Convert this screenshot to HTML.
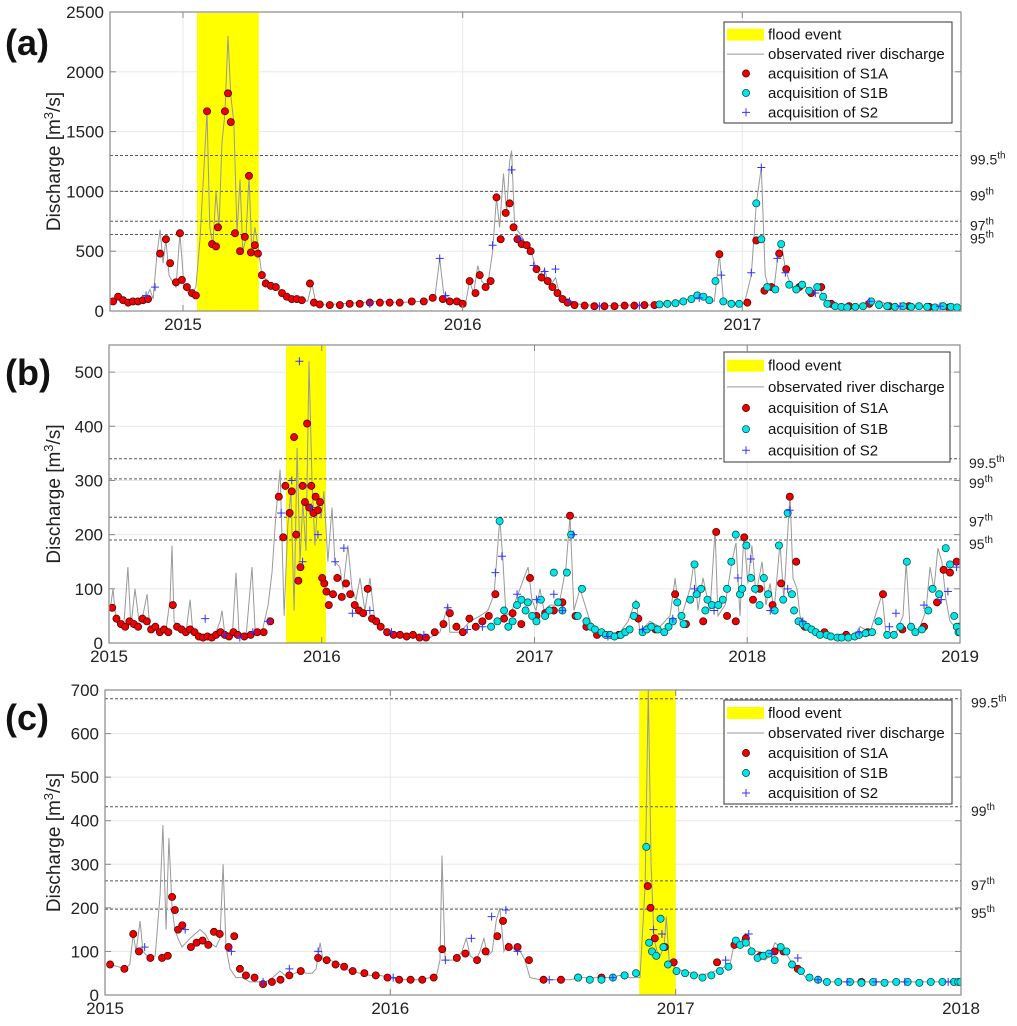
<!DOCTYPE html>
<html><head><meta charset="utf-8"><style>
body{margin:0;background:#fff;}
svg{display:block;font-family:"Liberation Sans",Arial,sans-serif;}
</style></head><body>
<svg id="chart" width="1017" height="1026" viewBox="0 0 1017 1026" xmlns="http://www.w3.org/2000/svg"></svg>
<script>
// ---------- PANEL A DATA ----------
const aLineT=[2014.739,2014.768,2014.793,2014.829,2014.864,2014.882,2014.893,2014.907,2014.918,2014.929,2014.939,2014.950,2014.961,2014.975,2014.989,2015.004,2015.025,2015.046,2015.061,2015.075,2015.086,2015.096,2015.107,2015.118,2015.129,2015.139,2015.150,2015.161,2015.171,2015.182,2015.193,2015.204,2015.214,2015.225,2015.236,2015.246,2015.257,2015.268,2015.282,2015.311,2015.346,2015.382,2015.418,2015.446,2015.461,2015.475,2015.507,2015.561,2015.632,2015.704,2015.775,2015.846,2015.900,2015.918,2015.932,2015.961,2015.989,2016.011,2016.025,2016.039,2016.054,2016.068,2016.089,2016.107,2016.121,2016.132,2016.146,2016.157,2016.168,2016.175,2016.186,2016.204,2016.221,2016.239,2016.257,2016.275,2016.293,2016.311,2016.332,2016.346,2016.368,2016.400,2016.454,2016.525,2016.596,2016.668,2016.739,2016.811,2016.864,2016.900,2016.918,2016.932,2016.971,2017.007,2017.032,2017.050,2017.068,2017.082,2017.096,2017.114,2017.129,2017.139,2017.154,2017.168,2017.189,2017.221,2017.246,2017.275,2017.293,2017.329,2017.382,2017.454,2017.489,2017.525,2017.596,2017.668,2017.721,2017.757,2017.782];
const aLineV=[80,120,80,70,90,180,100,480,680,400,600,300,250,200,650,200,130,200,600,1200,1670,700,550,1000,700,1400,1650,2300,1800,1570,650,1100,500,600,1130,500,700,550,300,230,180,120,100,80,230,70,50,60,70,80,70,80,100,440,150,90,100,70,250,150,380,250,200,500,950,700,1150,820,1250,1340,700,650,580,550,400,300,350,200,280,150,100,60,50,45,50,50,70,100,130,80,475,100,60,60,300,900,1200,300,180,200,500,580,350,250,150,220,150,200,100,40,35,60,90,40,40,35,60,30,40];
const aS1AT=[2014.750,2014.768,2014.786,2014.804,2014.821,2014.839,2014.857,2014.875,2014.918,2014.939,2014.954,2014.975,2014.989,2014.996,2015.014,2015.032,2015.046,2015.086,2015.104,2015.118,2015.125,2015.150,2015.161,2015.171,2015.186,2015.204,2015.221,2015.236,2015.243,2015.257,2015.268,2015.282,2015.296,2015.314,2015.332,2015.354,2015.371,2015.389,2015.407,2015.425,2015.454,2015.468,2015.489,2015.525,2015.561,2015.596,2015.632,2015.668,2015.704,2015.739,2015.775,2015.818,2015.861,2015.893,2015.929,2015.954,2015.979,2016.000,2016.025,2016.046,2016.061,2016.082,2016.100,2016.121,2016.136,2016.154,2016.168,2016.182,2016.196,2016.211,2016.229,2016.243,2016.264,2016.282,2016.304,2016.321,2016.339,2016.357,2016.375,2016.400,2016.436,2016.471,2016.507,2016.543,2016.579,2016.614,2016.650,2016.686,2016.918,2017.018,2017.050,2017.079,2017.104,2017.132,2017.157,2017.204,2017.246,2017.282,2017.318,2017.382,2017.454,2017.525,2017.596,2017.668,2017.739];
const aS1AV=[80,120,90,70,80,80,90,100,480,600,400,240,650,260,200,150,130,1670,560,540,700,1670,1820,1580,650,500,620,1130,490,550,480,300,230,210,200,150,120,100,100,90,230,70,55,50,50,60,60,70,70,70,70,80,80,110,100,80,80,60,250,150,300,200,250,950,600,820,900,700,600,560,550,500,350,280,250,200,150,100,70,50,45,40,40,40,45,45,50,50,475,70,590,170,200,480,350,200,150,200,60,40,60,40,40,35,30];
const aS1BT=[2016.704,2016.732,2016.761,2016.789,2016.818,2016.839,2016.861,2016.882,2016.904,2016.932,2016.961,2016.989,2017.050,2017.068,2017.089,2017.118,2017.139,2017.168,2017.193,2017.214,2017.239,2017.268,2017.289,2017.304,2017.332,2017.354,2017.375,2017.404,2017.432,2017.461,2017.489,2017.518,2017.546,2017.575,2017.604,2017.632,2017.661,2017.689,2017.718,2017.746,2017.768];
const aS1BV=[55,60,65,80,100,130,120,90,250,80,60,60,900,600,200,180,560,220,180,220,170,200,120,60,40,35,30,35,40,80,50,40,35,40,35,40,35,30,40,35,30];
const aS2T=[2014.868,2014.900,2015.668,2015.918,2015.939,2016.107,2016.175,2016.204,2016.254,2016.293,2016.332,2016.382,2016.489,2016.632,2016.846,2016.925,2017.032,2017.068,2017.125,2017.154,2017.261,2017.454,2017.564,2017.707];
const aS2V=[130,200,60,440,130,550,1180,600,380,330,350,80,40,45,110,300,320,1200,440,320,150,80,40,40];
const aFlood=[2015.050,2015.271];
const aYTicks=[0,500,1000,1500,2000,2500];
const aXTicks=[2015,2016,2017];
const aPct=[1300,1000,750,640];

// ---------- PANEL B DATA ----------
const bLineT=[2015.005,2015.019,2015.033,2015.052,2015.071,2015.089,2015.103,2015.122,2015.141,2015.159,2015.179,2015.193,2015.216,2015.240,2015.268,2015.287,2015.296,2015.306,2015.333,2015.362,2015.381,2015.394,2015.428,2015.475,2015.498,2015.522,2015.531,2015.545,2015.579,2015.597,2015.611,2015.644,2015.672,2015.687,2015.719,2015.748,2015.766,2015.785,2015.804,2015.823,2015.841,2015.855,2015.870,2015.884,2015.898,2015.911,2015.926,2015.940,2015.954,2015.968,2015.983,2015.997,2016.010,2016.029,2016.048,2016.062,2016.085,2016.100,2016.123,2016.142,2016.161,2016.180,2016.203,2016.227,2016.250,2016.274,2016.320,2016.368,2016.415,2016.462,2016.509,2016.556,2016.593,2016.602,2016.650,2016.697,2016.744,2016.781,2016.810,2016.837,2016.852,2016.866,2016.894,2016.913,2016.932,2016.950,2016.970,2016.988,2017.007,2017.026,2017.045,2017.073,2017.101,2017.120,2017.148,2017.167,2017.185,2017.214,2017.261,2017.308,2017.354,2017.402,2017.440,2017.477,2017.496,2017.542,2017.589,2017.637,2017.661,2017.684,2017.731,2017.750,2017.768,2017.792,2017.825,2017.849,2017.862,2017.896,2017.928,2017.947,2017.966,2017.984,2018.003,2018.022,2018.041,2018.070,2018.088,2018.107,2018.126,2018.154,2018.172,2018.201,2018.215,2018.234,2018.248,2018.276,2018.318,2018.366,2018.413,2018.459,2018.506,2018.530,2018.577,2018.634,2018.652,2018.695,2018.732,2018.747,2018.765,2018.803,2018.840,2018.859,2018.878,2018.896,2018.915,2018.934,2018.953,2019.000,2019.070];
const bLineV=[60,100,40,30,40,140,30,100,40,50,90,20,30,20,25,80,180,40,25,20,80,20,10,10,15,40,60,15,10,130,20,10,140,20,20,70,130,240,320,50,220,280,60,360,150,260,170,520,300,180,270,230,280,150,250,150,140,100,180,100,80,120,60,120,40,30,20,15,15,10,10,20,70,20,20,40,50,60,90,230,150,50,60,80,100,120,140,80,60,100,60,70,70,80,140,235,60,100,40,20,15,20,40,80,20,40,30,50,120,40,100,150,60,120,60,208,50,70,150,185,50,200,110,180,90,150,70,110,60,185,80,275,120,100,50,30,20,15,10,10,15,30,20,90,15,15,50,150,30,20,60,140,100,175,150,80,40,20,20];
const bS1AT=[2015.015,2015.035,2015.056,2015.076,2015.096,2015.117,2015.137,2015.157,2015.178,2015.198,2015.218,2015.239,2015.259,2015.279,2015.300,2015.320,2015.341,2015.361,2015.381,2015.402,2015.422,2015.442,2015.463,2015.483,2015.503,2015.524,2015.544,2015.564,2015.585,2015.605,2015.636,2015.666,2015.697,2015.727,2015.758,2015.798,2015.819,2015.829,2015.849,2015.859,2015.870,2015.880,2015.890,2015.900,2015.910,2015.921,2015.931,2015.941,2015.951,2015.961,2015.971,2015.982,2015.992,2016.002,2016.012,2016.022,2016.033,2016.053,2016.073,2016.094,2016.114,2016.134,2016.155,2016.175,2016.195,2016.216,2016.236,2016.256,2016.277,2016.307,2016.338,2016.368,2016.399,2016.429,2016.460,2016.490,2016.531,2016.572,2016.602,2016.633,2016.663,2016.694,2016.724,2016.755,2016.785,2016.816,2016.857,2016.897,2016.938,2016.979,2017.009,2017.050,2017.091,2017.131,2017.167,2017.193,2017.244,2017.294,2017.396,2017.488,2017.569,2017.661,2017.712,2017.793,2017.854,2017.905,2017.946,2017.986,2018.027,2018.058,2018.119,2018.159,2018.200,2018.230,2018.271,2018.363,2018.465,2018.566,2018.638,2018.729,2018.831,2018.892,2018.923,2018.953,2018.984,2018.996];
const bS1AV=[65,45,35,30,40,35,30,45,40,25,30,20,25,20,70,30,25,20,25,20,12,10,12,10,15,20,15,12,20,15,12,15,20,20,40,270,195,290,240,280,380,200,115,140,290,260,405,250,290,240,270,245,260,120,110,95,70,90,120,85,110,90,70,60,55,100,45,40,30,20,15,15,12,15,10,10,20,35,55,30,20,45,30,40,50,90,45,55,35,120,50,55,60,75,235,50,30,15,15,45,25,90,35,40,205,50,40,195,80,100,70,110,270,150,30,20,15,20,90,25,30,75,135,130,150,30];
const bS1BT=[2016.796,2016.826,2016.836,2016.857,2016.877,2016.897,2016.918,2016.938,2016.958,2016.969,2016.989,2017.009,2017.030,2017.050,2017.070,2017.091,2017.111,2017.131,2017.152,2017.172,2017.203,2017.223,2017.244,2017.264,2017.284,2017.315,2017.335,2017.355,2017.376,2017.406,2017.427,2017.447,2017.467,2017.477,2017.508,2017.528,2017.549,2017.579,2017.610,2017.630,2017.650,2017.671,2017.691,2017.701,2017.732,2017.752,2017.762,2017.783,2017.803,2017.813,2017.834,2017.864,2017.885,2017.905,2017.925,2017.946,2017.966,2017.976,2017.996,2018.017,2018.037,2018.058,2018.078,2018.098,2018.129,2018.149,2018.169,2018.190,2018.210,2018.220,2018.241,2018.261,2018.281,2018.302,2018.322,2018.342,2018.373,2018.393,2018.424,2018.444,2018.475,2018.505,2018.526,2018.556,2018.587,2018.617,2018.658,2018.689,2018.719,2018.750,2018.770,2018.790,2018.821,2018.851,2018.871,2018.902,2018.933,2018.953,2018.973,2018.985,2018.993,2018.999];
const bS1BV=[30,40,225,60,30,40,70,80,60,75,50,40,80,50,60,130,75,60,130,200,50,100,40,30,25,20,15,15,12,15,20,25,50,70,20,25,30,25,20,30,40,75,50,35,80,145,90,100,60,80,70,70,80,100,150,200,90,100,180,120,100,70,120,90,60,180,80,240,90,60,40,35,30,25,20,15,15,12,10,10,10,12,15,18,20,40,15,15,30,150,30,20,25,60,100,90,175,145,50,30,20,20];
const bS2T=[2015.452,2015.544,2015.615,2015.676,2015.748,2015.809,2015.859,2015.895,2015.910,2015.951,2015.982,2016.063,2016.104,2016.144,2016.226,2016.328,2016.480,2016.592,2016.684,2016.755,2016.816,2016.847,2016.918,2017.009,2017.091,2017.131,2017.182,2017.345,2017.508,2017.650,2017.752,2017.844,2017.956,2018.017,2018.108,2018.190,2018.200,2018.261,2018.526,2018.668,2018.699,2018.831,2018.912,2018.943,2018.984];
const bS2V=[45,15,10,20,40,240,300,520,150,250,200,150,175,55,60,20,15,65,25,30,130,160,90,80,90,60,200,12,25,45,100,60,120,155,60,100,245,40,20,30,55,70,80,95,140];
const bFlood=[2015.832,2016.020];
const bYTicks=[0,100,200,300,400,500];
const bXTicks=[2015,2016,2017,2018,2019];
const bPct=[340,303,232,190];

// ---------- PANEL C DATA ----------
const cLineT=[2015.018,2015.046,2015.070,2015.087,2015.099,2015.109,2015.123,2015.133,2015.147,2015.157,2015.176,2015.193,2015.203,2015.214,2015.224,2015.235,2015.245,2015.256,2015.270,2015.284,2015.298,2015.315,2015.333,2015.351,2015.368,2015.389,2015.403,2015.414,2015.424,2015.438,2015.459,2015.480,2015.508,2015.536,2015.560,2015.579,2015.596,2015.613,2015.631,2015.649,2015.666,2015.683,2015.704,2015.726,2015.740,2015.754,2015.764,2015.788,2015.824,2015.858,2015.894,2015.929,2015.964,2015.999,2016.034,2016.069,2016.104,2016.139,2016.160,2016.174,2016.181,2016.192,2016.209,2016.230,2016.251,2016.266,2016.280,2016.300,2016.314,2016.328,2016.342,2016.357,2016.371,2016.384,2016.398,2016.412,2016.427,2016.441,2016.455,2016.472,2016.489,2016.525,2016.559,2016.595,2016.630,2016.665,2016.700,2016.735,2016.770,2016.805,2016.840,2016.875,2016.893,2016.904,2016.914,2016.924,2016.935,2016.945,2016.959,2016.967,2016.977,2016.988,2017.001,2017.029,2017.058,2017.085,2017.120,2017.156,2017.190,2017.209,2017.226,2017.243,2017.261,2017.279,2017.296,2017.313,2017.331,2017.348,2017.366,2017.384,2017.401,2017.429,2017.457,2017.488,2017.541,2017.611,2017.682,2017.752,2017.822,2017.891,2017.962,2018.057];
const cLineV=[70,65,60,70,140,100,170,100,90,85,90,230,390,150,360,200,150,130,110,120,130,140,150,140,120,110,130,300,110,60,40,40,30,30,30,35,45,55,45,45,50,55,50,50,60,120,80,80,70,55,50,45,45,40,35,35,35,40,40,80,320,80,80,80,100,130,90,80,100,130,90,100,170,200,100,120,110,100,100,80,40,35,35,35,35,40,40,40,40,45,40,40,250,700,300,130,100,90,110,180,80,70,60,55,50,45,50,60,70,130,120,140,110,100,100,80,90,120,110,100,80,60,40,35,30,30,30,30,30,30,30,30];
const cS1AT=[2015.018,2015.068,2015.099,2015.119,2015.159,2015.200,2015.220,2015.235,2015.245,2015.256,2015.271,2015.301,2015.321,2015.342,2015.362,2015.382,2015.402,2015.433,2015.453,2015.473,2015.494,2015.524,2015.554,2015.585,2015.615,2015.646,2015.686,2015.747,2015.777,2015.808,2015.838,2015.868,2015.909,2015.949,2015.990,2016.031,2016.071,2016.112,2016.152,2016.182,2016.233,2016.263,2016.304,2016.334,2016.375,2016.395,2016.415,2016.446,2016.486,2016.537,2016.598,2016.658,2016.740,2016.821,2016.902,2016.912,2016.927,2016.962,2016.993,2017.145,2017.206,2017.246,2017.297,2017.347,2017.378,2017.428,2017.651];
const cS1AV=[70,60,140,100,85,85,90,225,195,150,160,110,120,125,115,145,140,110,135,60,45,40,25,30,35,45,55,85,80,70,65,55,50,45,40,35,35,35,40,105,85,95,80,100,135,170,110,110,80,35,35,40,40,45,250,200,130,110,75,75,115,130,90,100,100,60,30];
const cS1BT=[2016.658,2016.699,2016.740,2016.780,2016.821,2016.861,2016.897,2016.907,2016.917,2016.932,2016.947,2016.957,2016.973,2017.003,2017.033,2017.064,2017.094,2017.125,2017.155,2017.185,2017.211,2017.226,2017.246,2017.266,2017.287,2017.307,2017.327,2017.347,2017.368,2017.388,2017.408,2017.439,2017.469,2017.499,2017.530,2017.570,2017.611,2017.651,2017.692,2017.732,2017.773,2017.813,2017.854,2017.894,2017.935,2017.975,2017.990,2017.998];
const cS1BV=[40,35,35,40,45,50,340,120,100,90,175,110,70,55,50,45,40,45,55,65,125,115,120,100,85,90,95,80,110,100,70,55,40,35,30,30,30,28,30,28,30,30,28,30,30,30,30,30];
const cS2T=[2015.139,2015.281,2015.443,2015.554,2015.646,2015.747,2016.010,2016.193,2016.284,2016.355,2016.405,2016.446,2016.557,2016.780,2016.922,2016.952,2017.175,2017.256,2017.337,2017.428,2017.499,2017.601,2017.702,2017.803,2017.955];
const cS2V=[110,150,100,30,60,100,40,80,130,180,195,100,35,40,150,140,80,140,95,85,35,30,30,30,30];
const cFlood=[2016.872,2017.000];
const cYTicks=[0,100,200,300,400,500,600,700];
const cXTicksFull=[2015,2016,2017,2018];
const cPct=[680,432,262,197];

const pctLabels=["99.5","99","97","95"];

// ---------- RENDER ----------
const NS="http://www.w3.org/2000/svg";
const svg=document.getElementById('chart');
function mk(tag,attrs,parent){const e=document.createElementNS(NS,tag);for(const k in attrs)e.setAttribute(k,attrs[k]);(parent||svg).appendChild(e);return e;}

const panels=[
 {key:'a',label:'(a)',L:110,T:12,R:961,B:311,t0:2014.739,t1:2017.782,vmax:2500,
  lineT:aLineT,lineV:aLineV,s1aT:aS1AT,s1aV:aS1AV,s1bT:aS1BT,s1bV:aS1BV,s2T:aS2T,s2V:aS2V,flood:aFlood,yt:aYTicks,xt:aXTicks,pct:aPct,
  legX:724,legY:22,legW:228,legH:101,labY:55,pctX:970},
 {key:'b',label:'(b)',L:109,T:345,R:960,B:643,t0:2015,t1:2019,vmax:550,
  lineT:bLineT,lineV:bLineV,s1aT:bS1AT,s1aV:bS1AV,s1bT:bS1BT,s1bV:bS1BV,s2T:bS2T,s2V:bS2V,flood:bFlood,yt:bYTicks,xt:bXTicks,pct:bPct,
  legX:724,legY:352,legW:226,legH:110,labY:385,pctX:969},
 {key:'c',label:'(c)',L:105,T:690,R:961,B:995,t0:2015,t1:2018,vmax:700,
  lineT:cLineT,lineV:cLineV,s1aT:cS1AT,s1aV:cS1AV,s1bT:cS1BT,s1bV:cS1BV,s2T:cS2T,s2V:cS2V,flood:cFlood,yt:cYTicks,xt:cXTicksFull,pct:cPct,
  legX:724,legY:700,legW:228,legH:104,labY:730,pctX:971}
];

panels.forEach(p=>{
 const g=mk('g',{});
 
 
 const xs=t=>p.L+(t-p.t0)/(p.t1-p.t0)*(p.R-p.L);
 const ys=v=>p.B-v/p.vmax*(p.B-p.T);
 const clipId='clip'+p.key;
 const cp=mk('clipPath',{id:clipId},g);mk('rect',{x:p.L,y:p.T,width:p.R-p.L,height:p.B-p.T},cp);
 p.yt.forEach(v=>{const l=mk('line',{x1:p.L,x2:p.R,y1:ys(v),y2:ys(v),stroke:'#e8e8e8','stroke-width':1},g);});
 p.xt.forEach(t=>{const l=mk('line',{x1:xs(t),x2:xs(t),y1:p.T,y2:p.B,stroke:'#e8e8e8','stroke-width':1},g);});
 const fb=mk('rect',{x:xs(p.flood[0]),y:p.T+1,width:xs(p.flood[1])-xs(p.flood[0]),height:p.B-p.T-1,fill:'#ffff00'},g);
 
 p.pct.forEach((v,i)=>{
  const l=mk('line',{x1:p.L,x2:p.R,y1:ys(v),y2:ys(v),stroke:'#555','stroke-width':1,'stroke-dasharray':'3,2'},g);
  
  const tx=mk('text',{x:p.pctX,y:ys(v)+9,'font-size':14,fill:'#222'},g);
  
  tx.textContent=pctLabels[i];
  const sp=mk('tspan',{dy:-6,'font-size':10},tx);sp.textContent='th';
 });
 const cg=mk('g',{'clip-path':'url(#'+clipId+')'},g);
 let d='';p.lineT.forEach((t,i)=>{d+=(i?'L':'M')+xs(t).toFixed(1)+' '+ys(p.lineV[i]).toFixed(1);});
 const pl=mk('path',{d:d,fill:'none',stroke:'#999','stroke-width':1},cg);
 
 p.s1aT.forEach((t,i)=>{const c=mk('circle',{cx:xs(t),cy:ys(p.s1aV[i]),r:3.6,fill:'#ee0000',stroke:'#400','stroke-width':0.7},cg);
  });
 p.s1bT.forEach((t,i)=>{const c=mk('circle',{cx:xs(t),cy:ys(p.s1bV[i]),r:3.6,fill:'#00e5e5',stroke:'#044','stroke-width':0.7},cg);
  });
 p.s2T.forEach((t,i)=>{const x=xs(t),y=ys(p.s2V[i]);const c=mk('path',{d:`M${x-4} ${y}H${x+4}M${x} ${y-4}V${y+4}`,stroke:'#3333ff','stroke-width':1},cg);
  });
 const bx=mk('rect',{x:p.L,y:p.T,width:p.R-p.L,height:p.B-p.T,fill:'none',stroke:'#888','stroke-width':1.2},g);
 
 p.yt.forEach(v=>{
  mk('line',{x1:p.L,x2:p.L+6,y1:ys(v),y2:ys(v),stroke:'#888'},g);
  mk('line',{x1:p.R,x2:p.R-6,y1:ys(v),y2:ys(v),stroke:'#888'},g);
  const tx=mk('text',{x:p.L-6,y:ys(v)+6,'font-size':17,'text-anchor':'end',fill:'#222'},g);
  tx.textContent=v;
 });
 p.xt.forEach(t=>{
  mk('line',{x1:xs(t),x2:xs(t),y1:p.B,y2:p.B-6,stroke:'#888'},g);
  mk('line',{x1:xs(t),x2:xs(t),y1:p.T,y2:p.T+6,stroke:'#888'},g);
  const tx=mk('text',{x:xs(t),y:p.B+19,'font-size':17,'text-anchor':'middle',fill:'#222'},g);
  tx.textContent=t;
 });
 const yc=(p.T+p.B)/2;
 const yl=mk('text',{x:0,y:0,'font-size':19,'text-anchor':'middle',fill:'#222',transform:`translate(60,${yc}) rotate(-90)`},g);
 
 yl.appendChild(document.createTextNode('Discharge [m'));
 const s3=mk('tspan',{dy:-7,'font-size':13},yl);s3.textContent='3';
 const s4=mk('tspan',{dy:7},yl);s4.textContent='/s]';
 const lb=mk('text',{x:5,y:p.labY,'font-size':36,'font-weight':'bold',fill:'#111'},g);
 lb.textContent=p.label;
 const lg=mk('g',{},g);
 mk('rect',{x:p.legX,y:p.legY,width:p.legW,height:p.legH,fill:'#fff',stroke:'#333','stroke-width':1},lg);
 const rh=p.legH/5.2, r0=p.legY+rh*0.6+1;
 const names=['flood event','observated river discharge','acquisition of S1A','acquisition of S1B','acquisition of S2'];
 names.forEach((n,i)=>{
  const y=r0+i*rh;
  const e=mk('g',{},lg);
  if(i==0) mk('rect',{x:p.legX+3,y:y-6,width:37,height:12,fill:'#ffff00'},e);
  if(i==1) mk('line',{x1:p.legX+3,x2:p.legX+40,y1:y,y2:y,stroke:'#999'},e);
  if(i==2) mk('circle',{cx:p.legX+22,cy:y,r:3.6,fill:'#ee0000',stroke:'#400','stroke-width':0.7},e);
  if(i==3) mk('circle',{cx:p.legX+22,cy:y,r:3.6,fill:'#00e5e5',stroke:'#044','stroke-width':0.7},e);
  if(i==4) mk('path',{d:`M${p.legX+18} ${y}H${p.legX+26}M${p.legX+22} ${y-4}V${y+4}`,stroke:'#3333ff'},e);
  const tx=mk('text',{x:p.legX+44,y:y+5,'font-size':15,fill:'#111'},e);tx.textContent=n;
 });
});
</script>
</body></html>
